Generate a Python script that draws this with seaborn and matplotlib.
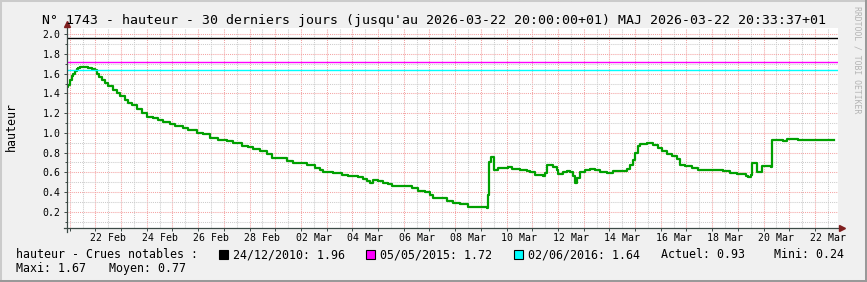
import pandas as pd
import matplotlib
matplotlib.use("Agg")
import matplotlib.pyplot as plt
import matplotlib.dates as mdates
from matplotlib.ticker import MultipleLocator, FuncFormatter, NullFormatter, FormatStrFormatter
from matplotlib.lines import Line2D
from matplotlib.patches import Rectangle
import seaborn as sns

# ---------------- data ----------------
start = "2026-02-20 21:30"
span_days = 30

hours = [0, 1.2, 2.8, 4.4, 5.9, 7.5, 9.1, 10.6, 12.1, 19.9,
         23.1, 26.1, 27.7, 30.2, 32.4, 35.5, 38.6, 43.2, 46.4, 49.5,
         54.2, 57.2, 60.4, 65.1, 69.8, 74.4, 80.6, 85.3, 89.9, 96.2,
         100.9, 108.6, 113.3, 121.1, 127.3, 133.5, 141.3, 149.1, 155.3, 163.2,
         169.3, 174.0, 180.2, 186.5, 191.2, 205.2, 211.3, 217.6, 223.9, 231.6,
         236.3, 239.4, 248.7, 256.5, 262.7, 272.1, 276.7, 279.9, 283.0, 286.1,
         290.7, 295.4, 300.1, 303.2, 307.9, 321.9, 328.1, 334.3, 339.0, 341.5,
         354.6, 360.8, 367.0, 374.8, 392.0, 392.9, 394.4, 396.0, 399.1, 402.8,
         412.1, 415.3, 423.1, 429.3, 432.4, 437.1, 444.8, 446.4, 448.0, 454.2,
         457.3, 458.8, 462.9, 466.7, 469.7, 472.8, 474.4, 476.0, 479.1, 483.8,
         488.4, 493.1, 497.8, 504.0, 510.2, 522.7, 525.8, 528.9, 530.5, 533.0,
         535.1, 541.4, 547.6, 552.2, 555.4, 560.1, 564.7, 569.4, 572.5, 577.2,
         583.4, 589.6, 594.2, 600.5, 612.9, 619.2, 625.4, 634.1, 636.3, 638.5,
         639.5, 644.7, 648.8, 651.9, 657.5, 658.1, 668.9, 672.1, 683.0, 716.6]

hauteur = [1.46, 1.49, 1.54, 1.58, 1.60, 1.63, 1.645, 1.66, 1.67, 1.66,
           1.65, 1.64, 1.60, 1.57, 1.54, 1.51, 1.475, 1.435, 1.405, 1.37,
           1.33, 1.30, 1.28, 1.245, 1.205, 1.165, 1.15, 1.13, 1.11, 1.095,
           1.07, 1.05, 1.025, 1.00, 0.985, 0.95, 0.93, 0.915, 0.90, 0.87,
           0.86, 0.84, 0.815, 0.79, 0.745, 0.72, 0.695, 0.69, 0.67, 0.645,
           0.625, 0.60, 0.593, 0.576, 0.558, 0.552, 0.535, 0.508, 0.497, 0.518,
           0.515, 0.497, 0.48, 0.465, 0.457, 0.44, 0.416, 0.396, 0.372, 0.339,
           0.311, 0.288, 0.278, 0.253, 0.24, 0.372, 0.70, 0.752, 0.627, 0.644,
           0.65, 0.634, 0.627, 0.616, 0.60, 0.576, 0.566, 0.593, 0.678, 0.65,
           0.627, 0.586, 0.60, 0.61, 0.60, 0.566, 0.491, 0.542, 0.60, 0.62,
           0.637, 0.62, 0.60, 0.593, 0.61, 0.634, 0.678, 0.728, 0.797, 0.864,
           0.891, 0.898, 0.881, 0.847, 0.813, 0.786, 0.762, 0.735, 0.678, 0.66,
           0.644, 0.627, 0.62, 0.627, 0.61, 0.593, 0.586, 0.566, 0.549, 0.576,
           0.695, 0.60, 0.66, 0.667, 0.65, 0.932, 0.922, 0.942, 0.932, 0.932]

crues_dates = ["24/12/2010", "05/05/2015", "02/06/2016"]
crues_values = [1.96, 1.72, 1.64]
crues_colors = ["#000000", "#ff00ff", "#00ffff"]

tick_dates = ["2026-02-22 12:00", "2026-02-24 12:00", "2026-02-26 12:00", "2026-02-28 12:00",
              "2026-03-02 12:00", "2026-03-04 12:00", "2026-03-06 12:00", "2026-03-08 12:00",
              "2026-03-10 12:00", "2026-03-12 12:00", "2026-03-14 12:00", "2026-03-16 12:00",
              "2026-03-18 12:00", "2026-03-20 12:00", "2026-03-22 12:00"]
tick_labels = ["22 Feb", "24 Feb", "26 Feb", "28 Feb", "02 Mar", "04 Mar", "06 Mar", "08 Mar",
               "10 Mar", "12 Mar", "14 Mar", "16 Mar", "18 Mar", "20 Mar", "22 Mar"]

stat_names = ["Actuel", "Mini", "Maxi", "Moyen"]
stat_values = [0.93, 0.24, 1.67, 0.77]

title = "N° 1743 - hauteur - 30 derniers jours (jusqu'au 2026-03-22 20:00:00+01) MAJ 2026-03-22 20:33:37+01"

# ---------------- figure ----------------
plt.rcParams['font.family'] = ['DejaVu Sans Mono', 'DejaVu Sans']
W, H = 867, 282
fig = plt.figure(figsize=(W / 100, H / 100), dpi=100)
fig.patch.set_facecolor('#f0f0f0')

def fx(x):
    return x / W

def fy(y):
    return 1 - y / H

L, R, T, B = 67, 838, 27.7, 228.3
ax = fig.add_axes([fx(L), fy(B), (R - L) / W, (B - T) / H])
ax.set_facecolor('#ffffff')

t0 = pd.Timestamp(start)
df = pd.DataFrame({
    "time": t0 + pd.to_timedelta(hours, unit="h"),
    "hauteur": hauteur,
})

sns.lineplot(data=df, x="time", y="hauteur", ax=ax, estimator=None,
             drawstyle="steps-post", color="#00a000", linewidth=1.6, zorder=3)

for v, c in zip(crues_values, crues_colors):
    ax.axhline(v, color=c, lw=1.0, zorder=4)

ax.set_xlim(t0, t0 + pd.Timedelta(days=span_days))
ax.set_ylim(0.033, 2.066)
ax.set_xlabel("")
ax.set_ylabel("")

# grids
major_grid = "#f4a4a4"
minor_grid = "#cccccc"
ax.xaxis.set_major_locator(mdates.DayLocator())
ax.xaxis.set_major_formatter(NullFormatter())
ax.xaxis.set_minor_locator(mdates.HourLocator(byhour=[12]))
tick_map = {pd.Timestamp(d): lab for d, lab in zip(tick_dates, tick_labels)}

def minor_fmt(x, pos):
    d = pd.Timestamp(mdates.num2date(x).replace(tzinfo=None)).round("h")
    return tick_map.get(d, "")

ax.xaxis.set_minor_formatter(FuncFormatter(minor_fmt))
ax.yaxis.set_major_locator(MultipleLocator(0.2))
ax.yaxis.set_minor_locator(MultipleLocator(0.1))
ax.yaxis.set_major_formatter(FormatStrFormatter('%.1f'))

ax.grid(which="major", color=major_grid, linestyle=(0, (1, 1)), linewidth=0.75)
ax.grid(which="minor", color=minor_grid, linestyle=(0, (1, 1)), linewidth=0.75)
ax.set_axisbelow(True)

axis_col = "#3c4a46"
ax.tick_params(axis="x", which="major", length=2.2, width=0.7, color=axis_col, direction="out")
ax.tick_params(axis="x", which="minor", length=0, pad=3.6, labelsize=7.1, labelcolor="black")
ax.tick_params(axis="y", which="major", length=2.2, width=0.7, color=axis_col, direction="out",
               pad=2.6, labelsize=7.1)
ax.tick_params(axis="y", which="minor", length=1.4, width=0.7, color=axis_col, direction="out")

for s in ax.spines.values():
    s.set_visible(False)

# axis lines with arrows (rrdtool style)
Wa, Ha = R - L, B - T
ax.plot([0, 0], [-3.2 / Ha, (B - 25.5) / Ha], transform=ax.transAxes, color=axis_col,
        lw=0.9, clip_on=False, zorder=5)
ax.plot([-3.2 / Wa, (839.5 - L) / Wa], [0, 0], transform=ax.transAxes, color=axis_col,
        lw=0.9, clip_on=False, zorder=5)
ax.plot([0], [(B - 23.6) / Ha], transform=ax.transAxes, marker="^", markersize=4.3,
        color="#7f1f1f", clip_on=False, zorder=6, linestyle="none")
ax.plot([(841.6 - L) / Wa], [0], transform=ax.transAxes, marker=">", markersize=4.3,
        color="#7f1f1f", clip_on=False, zorder=6, linestyle="none")

# title and labels
fig.text(0.5, fy(24), title, ha="center", va="baseline", fontsize=9.5, color="black")
fig.text(fx(11), fy(126.7), "hauteur", rotation=90, ha="center", va="center", fontsize=8.4)
fig.text(fx(857), fy(60), "RRDTOOL / TOBI OETIKER", rotation=270, ha="center", va="center",
         fontsize=5.9, color="#b4b4b4")

# legend
lf = 8.4
base1, base2 = 258.0, 272.0
fig.text(fx(15.5), fy(base1), "hauteur - Crues notables :", fontsize=lf, va="baseline")
sq_x = [218.5, 366.2, 513.5]
txt_x = [232.8, 379.6, 527.8]
for sx, tx, d, v, c in zip(sq_x, txt_x, crues_dates, crues_values, crues_colors):
    fig.add_artist(Rectangle((fx(sx), fy(258.5)), 9 / W, 9 / H, transform=fig.transFigure,
                             facecolor=c, edgecolor="black", lw=0.8))
    fig.text(fx(tx), fy(base1), f"{d}: {v:.2f}", fontsize=lf, va="baseline")
fig.text(fx(661.2), fy(base1), f"{stat_names[0]}: {stat_values[0]:.2f}", fontsize=lf, va="baseline")
fig.text(fx(773.5), fy(base1), f"{stat_names[1]}: {stat_values[1]:.2f}", fontsize=lf, va="baseline")
fig.text(fx(15.5), fy(base2), f"{stat_names[2]}: {stat_values[2]:.2f}", fontsize=lf, va="baseline")
fig.text(fx(108.8), fy(base2), f"{stat_names[3]}: {stat_values[3]:.2f}", fontsize=lf, va="baseline")

# frame shading
fig.add_artist(Line2D([0, 1], [1 - 1 / H, 1 - 1 / H], transform=fig.transFigure, color="#cbcbcb", lw=1.45))
fig.add_artist(Line2D([1 / W, 1 / W], [0, 1], transform=fig.transFigure, color="#cbcbcb", lw=1.45))
fig.add_artist(Line2D([0, 1], [1 / H, 1 / H], transform=fig.transFigure, color="#999999", lw=1.45))
fig.add_artist(Line2D([1 - 1 / W, 1 - 1 / W], [0, 1], transform=fig.transFigure, color="#999999", lw=1.45))

fig.savefig("out.png", dpi=100, facecolor=fig.get_facecolor())
